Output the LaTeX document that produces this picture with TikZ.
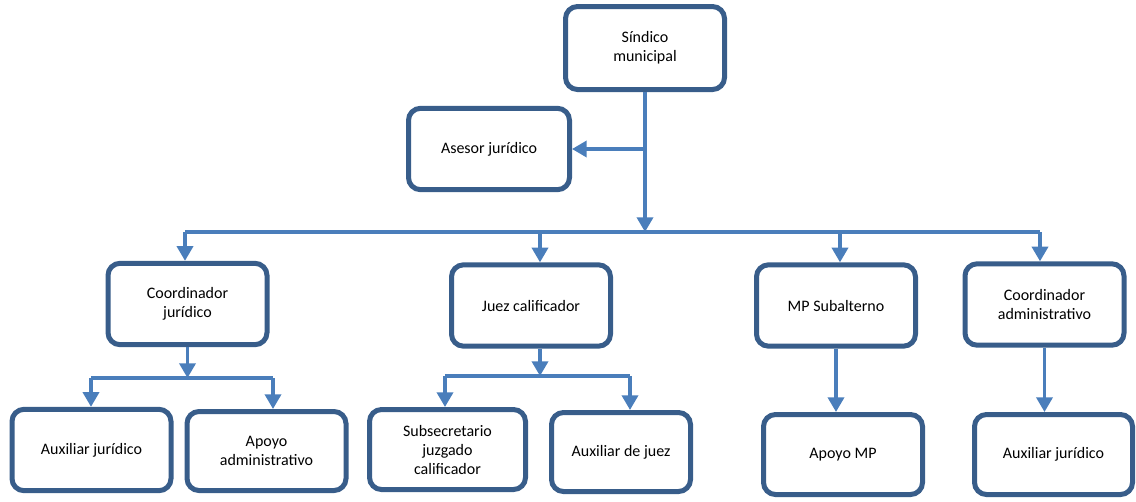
\documentclass[tikz,border=0pt]{standalone}
\usepackage{fontspec}
\setmainfont{Carlito}
\usetikzlibrary{arrows.meta}
\definecolor{borde}{RGB}{56,93,138}
\definecolor{linea}{RGB}{74,126,187}

\tikzset{
	caja/.style={draw=borde, line width=3.75pt, rounded corners=9pt, fill=white, align=center, inner sep=0pt, minimum width=119.25pt, minimum height=61pt},
	conector/.style={draw=linea, line width=2.6pt},
	flecha/.style={conector, -{Triangle[length=11pt,width=12pt]}},
}

\begin{document}
\begin{tikzpicture}[x=0.75pt, y=-0.75pt, font=\fontsize{12}{14.25}\selectfont]
	\useasboundingbox (0,0) rectangle (1136,501);
	% cajas
	\node[caja, minimum height=62.25pt] (sindico) at (645,48) {Síndico\\municipal};
	\node[caja, minimum width=120.75pt] (asesor) at (489,149) {Asesor jurídico};
	\node[caja] (coordjur) at (187.5,304) {Coordinador\\jurídico};
	\node[caja] (juez) at (531,305.5) {Juez calificador};
	\node[caja] (mp) at (836,305.5) {MP Subalterno};
	\node[caja] (coordadm) at (1044.5,304.5) {Coordinador\\administrativo};
	\node[caja] (auxjur) at (91.5,450) {Auxiliar jurídico};
	\node[caja, minimum height=59.25pt] (apoyoadm) at (266.5,451) {Apoyo\\administrativo};
	\node[caja, minimum width=117pt, minimum height=60pt] (subsec) at (447.5,449.5) {Subsecretario\\juzgado\\calificador};
	\node[caja, minimum width=104.25pt, minimum height=59.25pt] (auxjuez) at (621,452) {Auxiliar de juez};
	\node[caja, minimum height=60pt] (apoyomp) at (843,454.5) {Apoyo MP};
	\node[caja, minimum width=118.5pt, minimum height=60pt] (auxjur2) at (1053.5,454.5) {Auxiliar jurídico};

	\coordinate (b1) at (185,232);
	\coordinate (b2) at (540,232);
	\coordinate (b3) at (840,232);
	\coordinate (b4) at (1040,232);
	\coordinate (cj-i) at (91,378);
	\coordinate (cj-d) at (273,378);
	\coordinate (jz) at (540,376);
	\coordinate (jz-i) at (445,376);
	\coordinate (jz-d) at (630,376);

	% conectores
	\draw[flecha] (sindico.south) -- (sindico.south |- b1);
	\draw[flecha] (sindico.south |- asesor.east) -- (asesor.east);
	\draw[conector] (b1) -- (b4);
	\foreach \b/\dest in {b1/coordjur, b2/juez, b3/mp, b4/coordadm}
		\draw[flecha] (\b) -- (\b |- \dest.north);

	\draw[flecha] (coordjur.south) -- (coordjur.south |- cj-i);
	\draw[conector] (cj-i) -- (cj-d);
	\draw[flecha] (cj-i) -- (cj-i |- auxjur.north);
	\draw[flecha] (cj-d) -- (cj-d |- apoyoadm.north);

	\draw[flecha] (jz |- juez.south) -- (jz);
	\draw[conector] (jz-i) -- (jz-d);
	\draw[flecha] (jz-i) -- (jz-i |- subsec.north);
	\draw[flecha] (jz-d) -- (jz-d |- auxjuez.north);

	\draw[flecha] (mp.south) -- (mp.south |- apoyomp.north);
	\draw[flecha] (coordadm.south) -- (coordadm.south |- auxjur2.north);
\end{tikzpicture}
\end{document}
